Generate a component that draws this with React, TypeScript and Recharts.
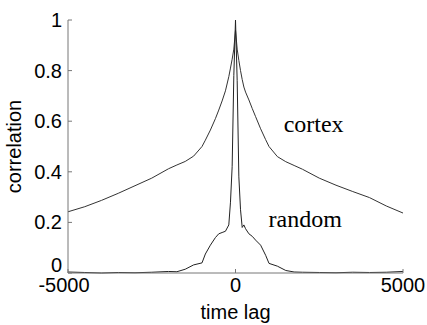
import React from 'react';
import { LineChart, Line, XAxis, YAxis, ReferenceDot } from 'recharts';

const lags = [
  -5000, -4500, -4000, -3500, -3000, -2500, -2000, -1750, -1500, -1250, -1000, -900, -750, -600, -500, -400,
  -300, -200, -150, -100, -50, 0, 50, 100, 150, 200, 250, 300, 400, 500, 600, 750, 900, 1000, 1250, 1500,
  1750, 2000, 2500, 3000, 3500, 4000, 4500, 5000,
];

const cortex = [
  0.242, 0.262, 0.287, 0.315, 0.345, 0.375, 0.412, 0.427, 0.441, 0.462, 0.5, 0.525, 0.565, 0.61, 0.644, 0.68,
  0.72, 0.776, 0.81, 0.845, 0.885, 0.96, 0.885, 0.84, 0.8, 0.765, 0.735, 0.715, 0.684, 0.65, 0.618, 0.57, 0.527,
  0.5, 0.46, 0.44, 0.425, 0.41, 0.375, 0.347, 0.322, 0.298, 0.265, 0.237,
];

const random = [
  0.004, 0.002, 0.0, 0.002, 0.001, 0.003, 0.006, 0.005, 0.015, 0.032, 0.04, 0.075, 0.11, 0.14, 0.155, 0.16,
  0.165, 0.19, 0.28, 0.42, 0.78, 1.0, 0.76, 0.38, 0.25, 0.18, 0.19, 0.175, 0.155, 0.145, 0.13, 0.11, 0.07,
  0.038, 0.027, 0.01, 0.004, 0.003, 0.002, 0.001, 0.003, 0.002, 0.003, 0.006,
];

const xTicks = [-5000, 0, 5000];
const yTicks = [0, 0.2, 0.4, 0.6, 0.8, 1];

const data = lags.map((t, i) => ({ t, cortex: cortex[i], random: random[i] }));

const sans = 'Liberation Sans, Arial, sans-serif';
const serif = 'Liberation Serif, Times New Roman, serif';
const axisColor = '#777';

function YTick({ x, y, payload }: any) {
  const v = payload.value;
  // the 0 label sits a bit higher, as in the original, so it clears -5000
  return (
    <g>
      <line x1={x + 6} x2={x + 10} y1={y} y2={y} stroke={axisColor} />
      <text x={x} y={v === 0 ? y - 8 : y} dy={7} textAnchor="end" fontFamily={sans} fontSize={20} fill="#000">
        {String(v)}
      </text>
    </g>
  );
}

function XTick({ x, y, payload }: any) {
  const shift = payload.value < 0 ? -4 : 0;
  return (
    <g>
      <line x1={x} x2={x} y1={y - 4} y2={y - 8} stroke={axisColor} />
      <text x={x + shift} y={y} dy={15} textAnchor="middle" fontFamily={sans} fontSize={20} fill="#000">
        {payload.value}
      </text>
    </g>
  );
}

const textAt = (label: string) => (props: any) => (
  <text x={props.cx} y={props.cy} fontFamily={serif} fontSize={24} fill="#000">
    {label}
  </text>
);

export default function App() {
  return (
    <div style={{ position: 'absolute', left: 0, top: 0, width: 427, height: 325, background: '#fff' }}>
      <LineChart width={427} height={325} data={data} margin={{ top: 20, right: 24, bottom: 22, left: 0 }}>
        <XAxis
          dataKey="t"
          type="number"
          domain={[-5000, 5000]}
          ticks={xTicks}
          tickSize={0}
          tickMargin={4}
          tick={<XTick />}
          stroke={axisColor}
          height={30}
          label={{ value: 'time lag', position: 'insideBottom', offset: -16, fontFamily: sans, fontSize: 20, fill: '#000' }}
        />
        <YAxis
          type="number"
          domain={[0, 1]}
          ticks={yTicks}
          tickSize={0}
          tickMargin={6}
          tick={<YTick />}
          stroke={axisColor}
          width={68}
          label={{ value: 'correlation', angle: -90, position: 'insideLeft', offset: 14, fontFamily: sans, fontSize: 20, fill: '#000', style: { textAnchor: 'middle' } }}
        />
        <Line dataKey="cortex" type="linear" stroke="#333" strokeWidth={1} dot={false} isAnimationActive={false} />
        <Line dataKey="random" type="linear" stroke="#222" strokeWidth={1} dot={false} isAnimationActive={false} />
        <ReferenceDot x={1437} y={0.557} r={0} shape={textAt('cortex')} />
        <ReferenceDot x={988} y={0.182} r={0} shape={textAt('random')} />
      </LineChart>
    </div>
  );
}
